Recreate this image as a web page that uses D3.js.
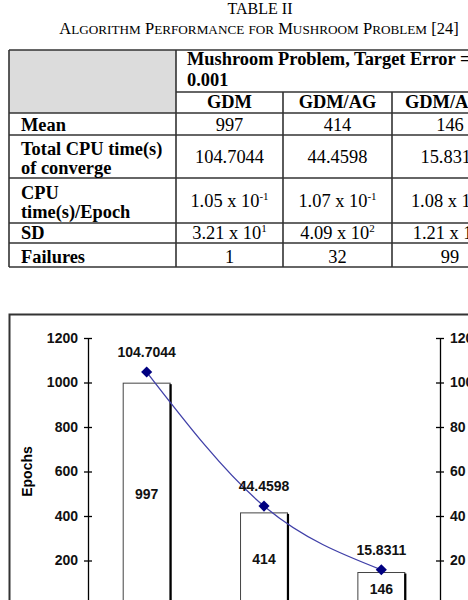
<!DOCTYPE html>
<html>
<head>
<meta charset="utf-8">
<script src="https://cdn.jsdelivr.net/npm/d3@7"></script>
<style>
  body { margin: 0; background: #fff; }
  svg { display: block; overflow: hidden; }
</style>
</head>
<body>
<svg id="fig" width="468" height="600"></svg>
<script>
/* DATA */
const algorithms = ["GDM", "GDM/AG", "GDM/AGAMAL"];
const meanEpochs = [997, 414, 146];
const totalCpu = [104.7044, 44.4598, 15.8311];
const cpuEpochMant = ["1.05", "1.07", "1.08"];
const cpuEpochExp = ["-1", "-1", "-1"];
const sdMant = ["3.21", "4.09", "1.21"];
const sdExp = ["1", "2", "2"];
const failures = [1, 32, 99];
const epochTicks = [0, 200, 400, 600, 800, 1000, 1200];
const cpuTicks = [0, 20, 40, 60, 80, 100, 120];

const svg = d3.select("#fig");
const serif = "'Liberation Serif', 'Times New Roman', serif";
const sans = "'Liberation Sans', Arial, sans-serif";

/* TABLE TITLE */
svg.append("text")
  .attr("x", 260).attr("y", 14)
  .attr("text-anchor", "middle")
  .attr("font-family", serif).attr("font-size", 16)
  .text("TABLE II");

// fake small caps: lowercase letters become smaller capitals
const caption = "Algorithm Performance for Mushroom Problem [24]";
const runs = [];
for (const ch of caption) {
  const small = ch !== ch.toUpperCase();
  const last = runs[runs.length - 1];
  if (last && last.small === small) last.t += ch;
  else runs.push({ small, t: ch });
}
svg.append("text")
  .attr("x", 259).attr("y", 34)
  .attr("text-anchor", "middle")
  .attr("font-family", serif)
  .selectAll("tspan")
  .data(runs)
  .join("tspan")
  .attr("font-size", d => d.small ? 13.2 : 16.5)
  .text(d => d.t.toUpperCase());

/* TABLE */
const colX = [9, 176, 283, 392, 508];
const rowY = [50, 92, 113, 135, 178, 223, 243, 267];
const lineCol = "#333";
const tbl = svg.append("g");

tbl.append("rect")
  .attr("x", colX[0]).attr("y", rowY[0])
  .attr("width", colX[1] - colX[0]).attr("height", rowY[2] - rowY[0])
  .attr("fill", "#dcdcdc");

const hLines = rowY.map((y, i) => ({ y, x1: i === 1 ? colX[1] : colX[0] }));
tbl.selectAll("line.h")
  .data(hLines)
  .join("line")
  .attr("class", "h")
  .attr("x1", d => d.x1).attr("x2", colX[4])
  .attr("y1", d => d.y).attr("y2", d => d.y)
  .attr("stroke", lineCol).attr("stroke-width", 1.6);

const vLines = colX.map((x, i) => ({ x, y1: (i === 2 || i === 3) ? rowY[1] : rowY[0] }));
tbl.selectAll("line.v")
  .data(vLines)
  .join("line")
  .attr("class", "v")
  .attr("x1", d => d.x).attr("x2", d => d.x)
  .attr("y1", d => d.y1).attr("y2", rowY[7])
  .attr("stroke", lineCol).attr("stroke-width", 1.6);

// header spanning the three algorithm columns
tbl.append("text")
  .attr("font-family", serif).attr("font-size", 18.4).attr("font-weight", "bold")
  .selectAll("tspan")
  .data(["Mushroom Problem, Target Error =", "0.001"])
  .join("tspan")
  .attr("x", colX[1] + 11)
  .attr("y", (d, i) => 65 + i * 21)
  .text(d => d);

const colCenter = i => (colX[i + 1] + colX[i + 2]) / 2;

// algorithm names
tbl.selectAll("text.alg")
  .data(algorithms)
  .join("text")
  .attr("class", "alg")
  .attr("font-family", serif).attr("font-size", 18.4).attr("font-weight", "bold")
  .attr("y", rowY[2] - 5)
  .attr("x", (d, i) => colCenter(i))
  .attr("text-anchor", "middle")
  .text(d => d)
  .each(function(d, i) {
    // names wider than their cell start at the left edge instead
    const w = this.getComputedTextLength();
    if (w > colX[i + 2] - colX[i + 1] - 10) {
      d3.select(this).attr("text-anchor", "start").attr("x", colX[i + 1] + 13);
    }
  });

// row labels
const rowLabels = [
  ["Mean"],
  ["Total CPU time(s)", "of converge"],
  ["CPU", "time(s)/Epoch"],
  ["SD"],
  ["Failures"]
];
const rowCells = [
  meanEpochs.map(v => [{ t: String(v) }]),
  totalCpu.map(v => [{ t: d3.format(".4f")(v) }]),
  cpuEpochMant.map((m, i) => [{ t: m + " x 10" }, { t: cpuEpochExp[i], sup: true }]),
  sdMant.map((m, i) => [{ t: m + " x 10" }, { t: sdExp[i], sup: true }]),
  failures.map(v => [{ t: String(v) }])
];

rowLabels.forEach((lines, r) => {
  const top = rowY[r + 2], bot = rowY[r + 3], mid = (top + bot) / 2;
  tbl.append("text")
    .attr("font-family", serif).attr("font-size", 18.4).attr("font-weight", "bold")
    .selectAll("tspan")
    .data(lines)
    .join("tspan")
    .attr("x", 21)
    .attr("y", (d, i) => lines.length === 1 ? bot - 4 : mid - 2 + i * 19.5)
    .text(d => d);

  rowCells[r].forEach((parts, c) => {
    const t = tbl.append("text")
      .attr("font-family", serif).attr("font-size", 18.4)
      .attr("text-anchor", "middle")
      .attr("x", colCenter(c))
      .attr("y", lines.length === 1 ? bot - 4 : mid + 6);
    parts.forEach(p => {
      if (p.sup) {
        t.append("tspan").attr("font-size", 11).attr("dy", -7).text(p.t);
      } else {
        t.append("tspan").text(p.t);
      }
    });
  });
});

/* CHART */
const x = d3.scaleBand()
  .domain(algorithms)
  .range([88, 440])
  .paddingInner(0.6)
  .paddingOuter(0.3);
const yL = d3.scaleLinear().domain([0, 1200]).range([605, 338]);
const yR = d3.scaleLinear().domain([0, 120]).range([605, 338]);

// frame around the chart
svg.append("rect")
  .attr("x", 9.5).attr("y", 314.5)
  .attr("width", 600).attr("height", 400)
  .attr("fill", "none")
  .attr("stroke", "#333").attr("stroke-width", 2);

function styleAxis(g, side) {
  g.select(".domain").attr("stroke", "#000").attr("stroke-width", 1.3);
  g.selectAll(".tick line")
    .attr("x1", side * 4).attr("x2", -side * 4)
    .attr("stroke", "#000").attr("stroke-width", 1.3);
  g.selectAll(".tick text")
    .attr("font-family", sans).attr("font-size", 14).attr("font-weight", "bold")
    .attr("fill", "#111");
}

const axL = svg.append("g")
  .attr("transform", "translate(88,0)")
  .call(d3.axisLeft(yL).tickValues(epochTicks).tickFormat(d3.format("d"))
    .tickSize(4).tickSizeOuter(0).tickPadding(6));
styleAxis(axL, 1);

const axR = svg.append("g")
  .attr("transform", "translate(440,0)")
  .call(d3.axisRight(yR).tickValues(cpuTicks).tickFormat(d3.format("d"))
    .tickSize(4).tickSizeOuter(0).tickPadding(6));
styleAxis(axR, -1);

svg.append("text")
  .attr("transform", `translate(32,${(yL(0) + yL(1200)) / 2}) rotate(-90)`)
  .attr("text-anchor", "middle")
  .attr("font-family", sans).attr("font-size", 14).attr("font-weight", "bold")
  .text("Epochs");

// bars with a heavier right edge like the original shadow
const bars = svg.append("g");
bars.selectAll("rect.bar")
  .data(algorithms)
  .join("rect")
  .attr("class", "bar")
  .attr("x", d => x(d))
  .attr("y", (d, i) => yL(meanEpochs[i]))
  .attr("width", x.bandwidth())
  .attr("height", (d, i) => yL(0) - yL(meanEpochs[i]))
  .attr("fill", "#fff")
  .attr("stroke", "#444").attr("stroke-width", 1);
bars.selectAll("line.shadow")
  .data(algorithms)
  .join("line")
  .attr("class", "shadow")
  .attr("x1", d => x(d) + x.bandwidth() + 0.5)
  .attr("x2", d => x(d) + x.bandwidth() + 0.5)
  .attr("y1", (d, i) => yL(meanEpochs[i]) + 1)
  .attr("y2", yL(0) + 10)
  .attr("stroke", "#000").attr("stroke-width", 2.2);

bars.selectAll("text")
  .data(algorithms)
  .join("text")
  .attr("x", d => x(d) + x.bandwidth() / 2)
  .attr("y", (d, i) => (yL(meanEpochs[i]) + yL(0)) / 2)
  .attr("dy", "0.36em")
  .attr("text-anchor", "middle")
  .attr("font-family", sans).attr("font-size", 14).attr("font-weight", "bold")
  .attr("fill", "#111")
  .text((d, i) => meanEpochs[i]);

// CPU time line
const pts = algorithms.map((d, i) => [x(d) + x.bandwidth() / 2, yR(totalCpu[i])]);
svg.append("path")
  .attr("d", d3.line().curve(d3.curveMonotoneX)(pts))
  .attr("fill", "none")
  .attr("stroke", "#4040a8").attr("stroke-width", 1.3);

svg.selectAll("path.mark")
  .data(pts)
  .join("path")
  .attr("class", "mark")
  .attr("d", d3.symbol(d3.symbolSquare, 62)())
  .attr("transform", d => `translate(${d[0]},${d[1]}) rotate(45)`)
  .attr("fill", "#000080");

svg.selectAll("text.cpu")
  .data(pts)
  .join("text")
  .attr("class", "cpu")
  .attr("x", d => d[0])
  .attr("y", d => d[1] - 15)
  .attr("text-anchor", "middle")
  .attr("font-family", sans).attr("font-size", 14).attr("font-weight", "bold")
  .attr("fill", "#111")
  .text((d, i) => d3.format(".4f")(totalCpu[i]));
</script>
</body>
</html>
